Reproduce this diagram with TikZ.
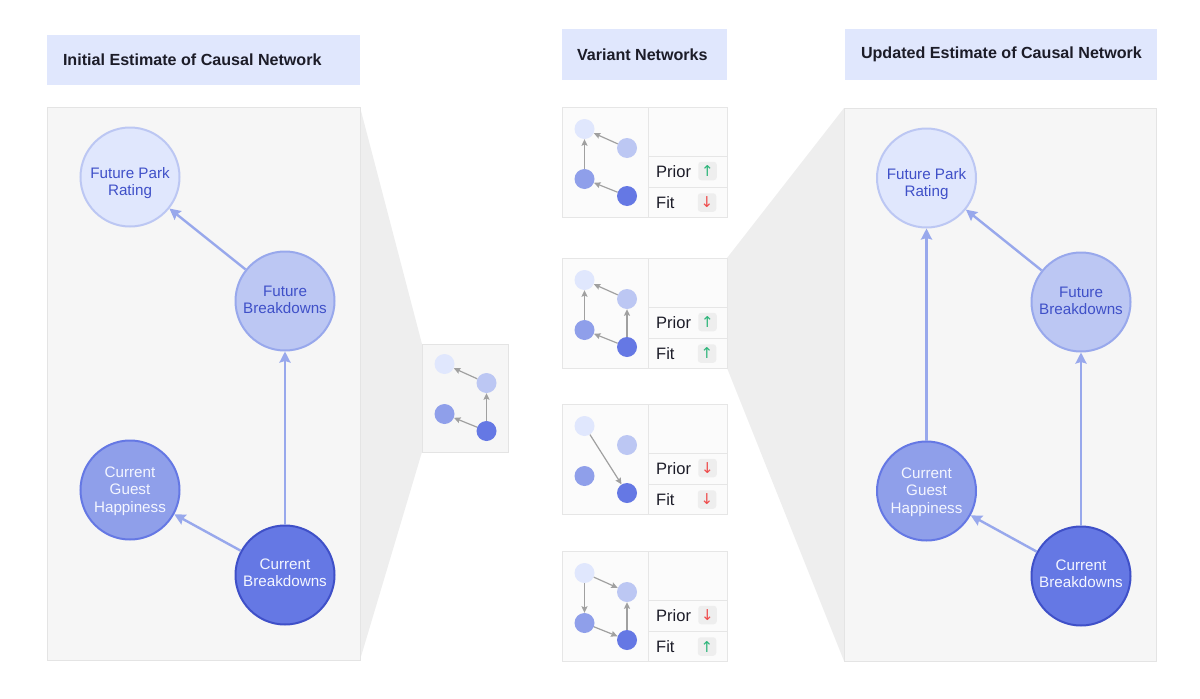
\documentclass[tikz,border=0pt]{standalone}
\usepackage{fontspec}
\setmainfont{Liberation Sans}
\newfontfamily\arrowfont{DejaVu Sans}
\usetikzlibrary{arrows.meta,positioning}

\definecolor{headblue}{HTML}{E0E7FD}
\definecolor{panelfill}{HTML}{F6F6F6}
\definecolor{panelline}{HTML}{E4E4E4}
\definecolor{funnelgray}{HTML}{EEEEEE}
\definecolor{cardfill}{HTML}{FBFBFB}
\definecolor{cardline}{HTML}{E6E6E6}
\definecolor{chipfill}{HTML}{EEEEEE}
\definecolor{inkdark}{HTML}{1C1C28}
\definecolor{inkblue}{HTML}{3F50C8}
\definecolor{inkwhite}{HTML}{F4F6FF}
\definecolor{edgeblue}{HTML}{98A8EC}
\definecolor{edgegray}{HTML}{A0A0A0}
\definecolor{nfpr}{HTML}{E0E7FD}
\definecolor{nfb}{HTML}{BCC7F3}
\definecolor{ncgh}{HTML}{8F9FEA}
\definecolor{ncb}{HTML}{6578E4}
\definecolor{upgreen}{HTML}{2DB57A}
\definecolor{downred}{HTML}{EE4B4B}

\tikzset{
    headbox/.style={fill=headblue,inner sep=0pt},
    headtext/.style={inner sep=0pt,font=\fontsize{16.1}{20}\selectfont\bfseries,text=inkdark},
    panelbox/.style={fill=panelfill,draw=panelline,line width=1pt},
    bignode/.style={circle,minimum size=99pt,inner sep=0pt,line width=2pt},
    fpr/.style={bignode,fill=nfpr,draw=nfb},
    fb/.style={bignode,fill=nfb,draw=edgeblue},
    cgh/.style={bignode,fill=ncgh,draw=ncb},
    cb/.style={bignode,fill=ncb,draw=inkblue},
    bigtext/.style={align=center,inner sep=0pt,font=\fontsize{15.2}{17.3}\selectfont},
    darktext/.style={bigtext,text=inkblue},
    lighttext/.style={bigtext,text=inkwhite},
    mini/.style={circle,minimum size=20pt,inner sep=0pt},
    bigedge/.style={-{Stealth[length=11pt,width=11pt,inset=1.5pt]},edgeblue,line width=2.4pt},
    miniedge/.style={-{Stealth[length=6.5pt,width=6pt,inset=1pt]},edgegray,line width=1.2pt},
    rowlabel/.style={anchor=west,inner sep=0pt,font=\fontsize{16.5}{20}\selectfont,text=inkdark,text height=12pt,text depth=3.5pt},
    chip/.style={minimum size=18.5pt,inner sep=0pt,rounded corners=3pt,fill=chipfill,font=\fontsize{15}{15}\arrowfont},
}
\newcommand{\chipup}{\textcolor{upgreen}{↑}}
\newcommand{\chipdown}{\textcolor{downred}{↓}}

\begin{document}
\begin{tikzpicture}[x=1pt,y=-1pt]
    \useasboundingbox (0,0) rectangle (1200,699);

    % Funnels
    \fill[funnelgray] (360,107) -- (422,344) -- (422,452) -- (360,660) -- cycle;
    \fill[funnelgray] (727,258) -- (844,108) -- (844,661) -- (727,368) -- cycle;

    % Headers
    \node[headbox,minimum width=313pt,minimum height=50pt] (headinit) at (203.5,60) {};
    \node[headbox,minimum width=165pt,minimum height=51pt] (headvar) at (644.5,54.5) {};
    \node[headbox,minimum width=312pt,minimum height=51pt] (headupd) at (1001,54.5) {};
    \node[headtext,right=16pt of headinit.west] (titleinit) {Initial Estimate of Causal Network};
    \node[headtext,right=15pt of headvar.west] (titlevar) {Variant Networks};
    \node[headtext,right=16pt of headupd.west] (titleupd) {Updated Estimate of Causal Network};

    % Panels
    \draw[panelbox] (47.5,107) rectangle (360,660);
    \draw[panelbox] (844,108) rectangle (1156,661);
    \draw[panelbox] (422,344) rectangle (508,452);

    % Initial estimate
    \node[fpr,label={[darktext,yshift=-6pt]center:Future Park\\Rating}] (fprL) at (130,177) {};
    \node[fb,label={[darktext,yshift=1pt]center:Future\\Breakdowns}] (fbL) at (285,301) {};
    \node[cgh,label={[lighttext,yshift=-1pt]center:Current\\Guest\\Happiness}] (cghL) at (130,490) {};
    \node[cb,label={[lighttext,yshift=2pt]center:Current\\Breakdowns}] (cbL) at (285,575) {};
    \draw[bigedge] (fbL) -- (fprL);
    \draw[bigedge] (cbL) -- (fbL);
    \draw[bigedge] (cbL) -- (cghL);

    % Updated estimate
    \node[fpr,label={[darktext,yshift=-6pt]center:Future Park\\Rating}] (fprR) at (926.5,178) {};
    \node[fb,label={[darktext,yshift=1pt]center:Future\\Breakdowns}] (fbR) at (1081,302) {};
    \node[cgh,label={[lighttext,yshift=-1pt]center:Current\\Guest\\Happiness}] (cghR) at (926.5,491) {};
    \node[cb,label={[lighttext,yshift=2pt]center:Current\\Breakdowns}] (cbR) at (1081,576) {};
    \draw[bigedge] (fbR) -- (fprR);
    \draw[bigedge] (cbR) -- (fbR);
    \draw[bigedge] (cbR) -- (cghR);
    \draw[bigedge] (cghR) -- (fprR);

    % Selected network
    \node[mini,fill=nfpr] (as) at (444.5,364) {};
    \node[mini,fill=nfb] (bs) at (486.5,383) {};
    \node[mini,fill=ncgh] (cs) at (444.5,414) {};
    \node[mini,fill=ncb] (ds) at (486.5,431) {};
    \draw[miniedge] (bs) -- (as);
    \draw[miniedge] (ds) -- (bs);
    \draw[miniedge] (ds) -- (cs);

    % Variant cards
    \foreach \n/\t in {1/107,2/258,3/404,4/551} {
        \draw[fill=cardfill,draw=cardline] (562,\t) rectangle (727,\t+110);
        \draw[cardline] (648,\t) -- (648,\t+110);
        \draw[cardline] (648,\t+49) -- (727,\t+49);
        \draw[cardline] (648,\t+80) -- (727,\t+80);
        \node[mini,fill=nfpr] (a\n) at (584.5,\t+22) {};
        \node[mini,fill=nfb] (b\n) at (627,\t+41) {};
        \node[mini,fill=ncgh] (c\n) at (584.5,\t+72) {};
        \node[mini,fill=ncb] (d\n) at (627,\t+89) {};
        \node[rowlabel] (prior\n) at (656,\t+66.5) {Prior};
        \node[rowlabel] (fit\n) at (656,\t+97.5) {Fit};
    }
    \node[chip] (pc1) at (707.5,171) {\chipup};
    \node[chip] (fc1) at (707,202.5) {\chipdown};
    \node[chip] (pc2) at (707.5,322) {\chipup};
    \node[chip] (fc2) at (707,353.5) {\chipup};
    \node[chip] (pc3) at (707.5,468) {\chipdown};
    \node[chip] (fc3) at (707,499.5) {\chipdown};
    \node[chip] (pc4) at (707.5,615) {\chipdown};
    \node[chip] (fc4) at (707,646.5) {\chipup};

    \draw[miniedge] (b1) -- (a1);
    \draw[miniedge] (c1) -- (a1);
    \draw[miniedge] (d1) -- (c1);

    \draw[miniedge] (b2) -- (a2);
    \draw[miniedge] (c2) -- (a2);
    \draw[miniedge] (d2) -- (c2);
    \draw[miniedge] (d2) -- (b2);

    \draw[miniedge] (a3) -- (d3);

    \draw[miniedge] (a4) -- (b4);
    \draw[miniedge] (a4) -- (c4);
    \draw[miniedge] (c4) -- (d4);
    \draw[miniedge] (d4) -- (b4);
\end{tikzpicture}
\end{document}
